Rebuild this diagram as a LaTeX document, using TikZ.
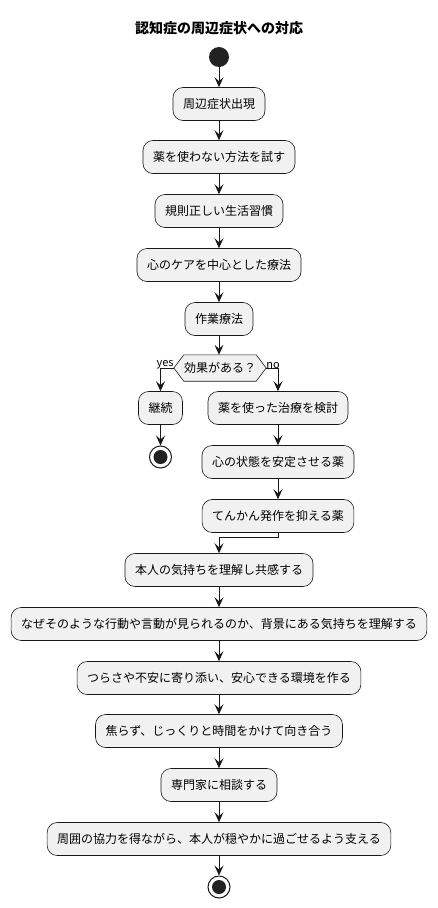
\documentclass[tikz,border=0pt]{standalone}
\usepackage{fontspec}
\setmainfont{Noto Sans CJK JP}
\usetikzlibrary{arrows.meta,calc}
\definecolor{boxfill}{HTML}{F1F1F1}
\definecolor{linec}{HTML}{181818}
\definecolor{dotc}{HTML}{222222}
\tikzset{
  actbox/.style={draw=linec,fill=boxfill,rounded corners=10pt,line width=0.6pt,
    minimum height=33pt,inner xsep=10pt,inner ysep=0pt,font=\fontsize{12}{14}\selectfont},
  arr/.style={draw=linec,line width=0.9pt,-{Stealth[length=10pt,width=9pt,inset=4pt]}},
  seg/.style={draw=linec,line width=0.9pt},
  lbl/.style={font=\fontsize{11}{13}\selectfont,inner sep=0pt},
  startdot/.style={circle,fill=dotc,minimum size=20pt,inner sep=0pt},
  endring/.style={circle,draw=linec,fill=white,line width=1pt,minimum size=22pt,inner sep=0pt},
  enddot/.style={circle,fill=dotc,minimum size=14pt,inner sep=0pt}
}
\begin{document}
\begin{tikzpicture}[x=1pt,y=-1pt]
\useasboundingbox (0,0) rectangle (437,908);
\node[font=\bfseries\fontsize{14}{16}\selectfont] (title) at (219,28) {認知症の周辺症状への対応};
\node[startdot] (s) at (219,57) {};
\node[actbox] (b1) at (219,104) {周辺症状出現};
\node[actbox] (b2) at (219,157) {薬を使わない方法を試す};
\node[actbox] (b3) at (219,211) {規則正しい生活習慣};
\node[actbox] (b4) at (219,265) {心のケアを中心とした療法};
\node[actbox] (b5) at (219,319) {作業療法};
\node[inner sep=0pt,minimum width=70pt,minimum height=26pt,font=\fontsize{12}{14}\selectfont] (d) at (220,368) {効果がある？};
\coordinate (dl) at ([xshift=-10pt]d.west);
\coordinate (dr) at ([xshift=10pt]d.east);
\draw[draw=linec,fill=boxfill,line width=0.6pt] (d.north west) -- (d.north east) -- (dr) -- (d.south east) -- (d.south west) -- (dl) -- cycle;
\node[inner sep=0pt,minimum width=70pt,minimum height=26pt,font=\fontsize{12}{14}\selectfont] at (d) {効果がある？};
\node[actbox] (k) at (160.5,408) {継続};
\node[endring] (e1) at (160.5,457) {};
\node[enddot] at (e1) {};
\node[actbox] (n1) at (278,408) {薬を使った治療を検討};
\node[actbox] (n2) at (278,462) {心の状態を安定させる薬};
\node[actbox] (n3) at (278,516) {てんかん発作を抑える薬};
\node[actbox] (m) at (219,570) {本人の気持ちを理解し共感する};
\node[actbox] (w1) at (219,624) {なぜそのような行動や言動が見られるのか、背景にある気持ちを理解する};
\node[actbox] (w2) at (219,678) {つらさや不安に寄り添い、安心できる環境を作る};
\node[actbox] (w3) at (219,731) {焦らず、じっくりと時間をかけて向き合う};
\node[actbox] (w4) at (219,785) {専門家に相談する};
\node[actbox] (w5) at (219,839) {周囲の協力を得ながら、本人が穏やかに過ごせるよう支える};
\node[endring] (e2) at (219,887) {};
\node[enddot] at (e2) {};
\draw[arr] (s) -- (b1);
\draw[arr] (b1) -- (b2);
\draw[arr] (b2) -- (b3);
\draw[arr] (b3) -- (b4);
\draw[arr] (b4) -- (b5);
\draw[arr] (b5.south) -- (b5.south |- d.north);
\draw[arr] (dl) -| (k.north);
\draw[arr] (dr) -| (n1.north);
\node[lbl,anchor=south east] (yes) at ([yshift=-1pt]dl) {yes};
\node[lbl,anchor=south west] (no) at ([yshift=-1pt]dr) {no};
\draw[arr] (k) -- (e1);
\draw[arr] (n1) -- (n2);
\draw[arr] (n2) -- (n3);
\draw[arr] (n3.south) -- ++(0,5) -| (m.north);
\draw[arr] (m) -- (w1);
\draw[arr] (w1) -- (w2);
\draw[arr] (w2) -- (w3);
\draw[arr] (w3) -- (w4);
\draw[arr] (w4) -- (w5);
\draw[arr] (w5) -- (e2);
\end{tikzpicture}
\end{document}
